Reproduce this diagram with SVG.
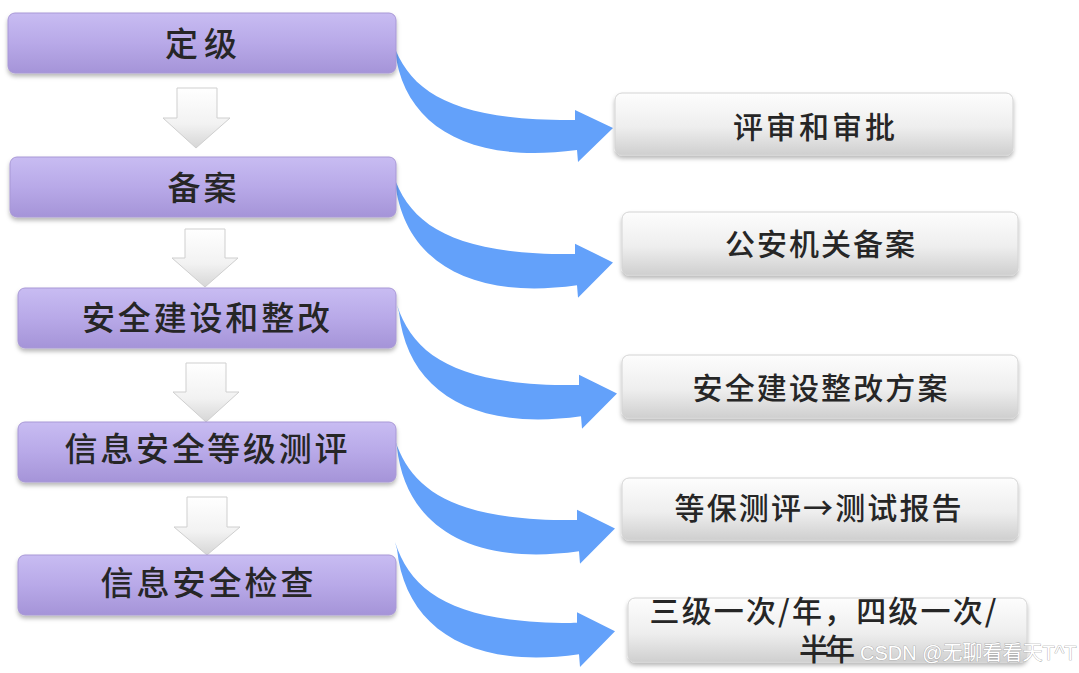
<svg xmlns="http://www.w3.org/2000/svg" width="1079" height="673" viewBox="0 0 1079 673">
<defs>
<linearGradient id="gPurple" x1="0" y1="0" x2="0" y2="1">
<stop offset="0" stop-color="#c8bcf2"/>
<stop offset="0.5" stop-color="#b8a9e8"/>
<stop offset="1" stop-color="#a594d8"/>
</linearGradient>
<linearGradient id="gGray" x1="0" y1="0" x2="0" y2="1">
<stop offset="0" stop-color="#fdfdfd"/>
<stop offset="0.55" stop-color="#eeeeee"/>
<stop offset="1" stop-color="#cfcfcf"/>
</linearGradient>
<linearGradient id="gDown" x1="0" y1="0" x2="0" y2="1">
<stop offset="0" stop-color="#ffffff"/>
<stop offset="0.6" stop-color="#f2f2f2"/>
<stop offset="1" stop-color="#d6d6d6"/>
</linearGradient>
<filter id="shadow" x="-5%" y="-20%" width="110%" height="150%">
<feDropShadow dx="0" dy="3" stdDeviation="2" flood-color="#000" flood-opacity="0.28"/>
</filter>
</defs>
<style>
.pbox{fill:url(#gPurple);stroke:#a898d6;stroke-width:1;filter:url(#shadow)}
.gbox{fill:url(#gGray);stroke:#d4d4d4;stroke-width:1;filter:url(#shadow)}
.down{fill:url(#gDown);stroke:#cfcfcf;stroke-width:1}
.blue{fill:#63a1fa}
.lt{font-family:"Noto Sans CJK SC","Liberation Sans",sans-serif;font-size:33px;font-weight:500;fill:#262626;text-anchor:middle;dominant-baseline:central}
.rt{font-family:"Noto Sans CJK SC","Liberation Sans",sans-serif;font-size:30px;font-weight:500;fill:#262626;text-anchor:middle;dominant-baseline:central}
.wm{font-family:"Liberation Sans","Noto Sans CJK SC",sans-serif;font-size:20px;fill:#ffffff;stroke:#9a9a9a;stroke-width:0.7;paint-order:stroke;text-anchor:start;dominant-baseline:central}
</style>
<rect width="1079" height="673" fill="#ffffff"/>

<g id="flow-arrows">
<path class="down" d="M177,88 L217,88 L217,118 L230,118 L196,148 L163,118 L177,118 Z"/>
<path class="down" d="M185,229 L225,229 L225,258 L238,258 L205,287 L172,258 L185,258 Z"/>
<path class="down" d="M186,363 L226,363 L226,392 L239,392 L206,422 L173,392 L186,392 Z"/>
<path class="down" d="M187,497 L227,497 L227,527 L240,527 L207,555 L174,527 L187,527 Z"/>
</g>

<g id="connectors">
<path class="blue" transform="translate(395,43)" d="M-2,0 C15,50 60,78 180,77 L180,67 L218,85 L183,119 L182,107 C70,122 8,80 0,7 Z"/>
<path class="blue" transform="translate(395,174) scale(1,1.04)" d="M-2,0 C15,50 60,78 180,77 L180,67 L218,85 L183,119 L182,107 C70,122 8,80 0,7 Z"/>
<path class="blue" transform="translate(399,305) scale(1,1.04)" d="M-2,0 C15,50 60,78 180,77 L180,67 L218,85 L183,119 L182,107 C70,122 8,80 0,7 Z"/>
<path class="blue" transform="translate(397,440) scale(1,1.04)" d="M-2,0 C15,50 60,78 180,77 L180,67 L218,85 L183,119 L182,107 C70,122 8,80 0,7 Z"/>
<path class="blue" transform="translate(397,542) scale(1,1.05)" d="M-2,0 C15,50 60,78 180,77 L180,67 L218,85 L183,119 L182,107 C70,122 8,80 0,7 Z"/>
</g>

<g id="n-dingji">
<rect class="pbox" x="8" y="13" width="388" height="60" rx="7"/>
<text class="lt" x="201" y="42" font-weight="bold" textLength="72" lengthAdjust="spacing">定级</text>
</g>
<g id="n-beian">
<rect class="pbox" x="10" y="157" width="386" height="60" rx="7"/>
<text class="lt" x="202" y="186" textLength="69" lengthAdjust="spacing">备案</text>
</g>
<g id="n-jianshe">
<rect class="pbox" x="18" y="288" width="378" height="60" rx="7"/>
<text class="lt" x="206" y="316" textLength="248" lengthAdjust="spacing">安全建设和整改</text>
</g>
<g id="n-cepin">
<rect class="pbox" x="18" y="422" width="378" height="60" rx="7"/>
<text class="lt" x="206" y="447" textLength="283" lengthAdjust="spacing">信息安全等级测评</text>
</g>
<g id="n-jiancha">
<rect class="pbox" x="18" y="555" width="378" height="60" rx="7"/>
<text class="lt" x="207" y="581" textLength="213" lengthAdjust="spacing">信息安全检查</text>
</g>

<g id="r-pingshen">
<rect class="gbox" x="615" y="93" width="398" height="62" rx="7"/>
<text class="rt" x="814" y="125" textLength="162" lengthAdjust="spacing">评审和审批</text>
</g>
<g id="r-gongan">
<rect class="gbox" x="622" y="212" width="396" height="63" rx="7"/>
<text class="rt" x="820" y="242" textLength="190" lengthAdjust="spacing">公安机关备案</text>
</g>
<g id="r-fangan">
<rect class="gbox" x="622" y="355" width="396" height="63" rx="7"/>
<text class="rt" x="820" y="386" textLength="255" lengthAdjust="spacing">安全建设整改方案</text>
</g>
<g id="r-baogao">
<rect class="gbox" x="622" y="478" width="396" height="62" rx="7"/>
<text class="rt" x="818" y="506" textLength="287" lengthAdjust="spacing">等保测评→测试报告</text>
</g>
<g id="r-pinlv">
<rect class="gbox" x="628" y="598" width="399" height="64" rx="7"/>
<text class="rt" font-size="26" x="823" y="609" textLength="347" lengthAdjust="spacing">三级一次/年，四级一次/</text>
<text class="rt" font-size="26" x="827" y="647" textLength="56" lengthAdjust="spacing">半年</text>
</g>

<text class="wm" x="860" y="653">CSDN @无聊看看天T^T</text>
</svg>
